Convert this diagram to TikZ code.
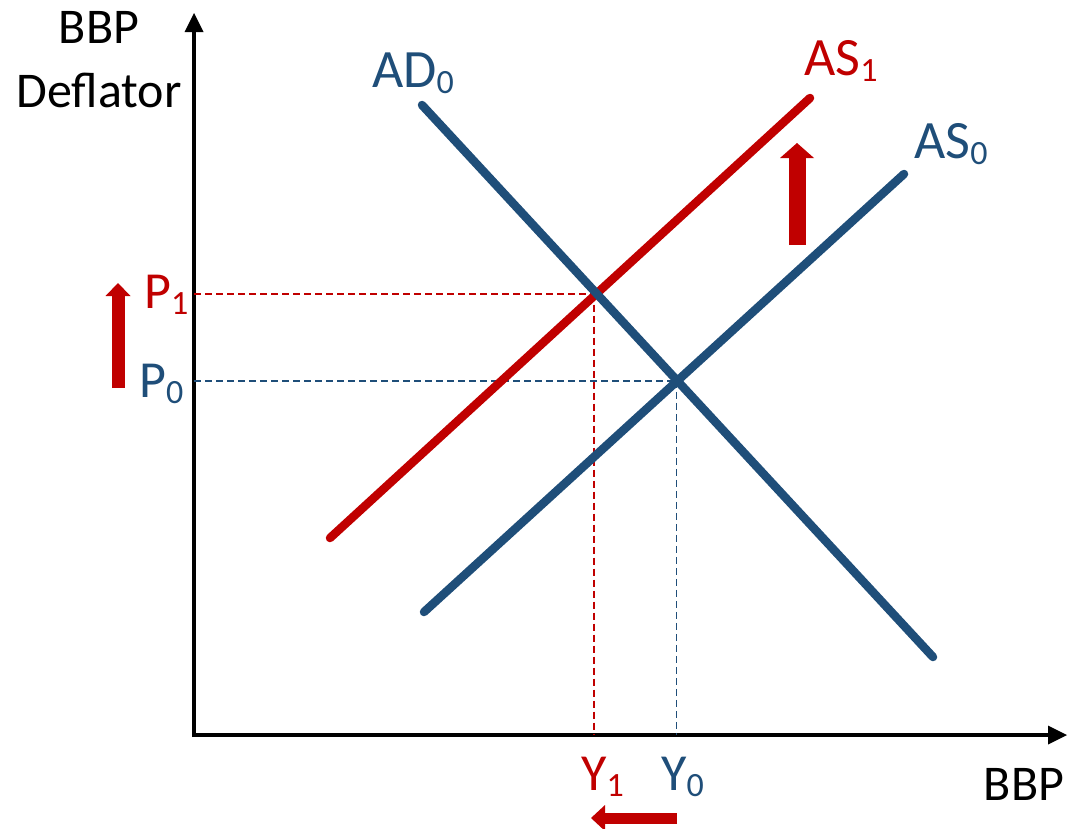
\documentclass[tikz,border=0pt]{standalone}
\usepackage{fontspec}
\setmainfont{Carlito}
\usetikzlibrary{arrows.meta}
\definecolor{myblue}{HTML}{1F4E79}
\definecolor{myred}{HTML}{C00000}
\newcommand{\lblsub}[2]{#1{\fontsize{34}{34}\selectfont\raisebox{-6pt}{#2}}}
\begin{document}
\begin{tikzpicture}[x=1pt,y=-1pt,
  curve/.style={line width=8.5pt, line cap=round},
  axisline/.style={line width=4.5pt, -{Triangle[width=19pt,length=19pt,line width=0pt]}},
  guide/.style={line width=1.8pt, dash pattern=on 7pt off 4pt},
  curvelab/.style={inner sep=0pt, anchor=base west, font=\fontsize{54}{54}\selectfont},
  pylab/.style={inner sep=0pt, anchor=base west, font=\fontsize{52}{52}\selectfont},
  axtitle/.style={inner sep=0pt, anchor=base, font=\fontsize{50}{50}\selectfont},
  shiftarrow/.style={draw=myred}
]
\useasboundingbox (0,0) rectangle (1070,828);

% axes
\coordinate (O) at (194,735);
\coordinate (Ytop) at (194,13);
\coordinate (Xend) at (1067,735);
\draw[axisline] (194,737) -- (Ytop);
\draw[axisline] (192,735) -- (Xend);

% curve end points
\coordinate (AD0a) at (422,105);
\coordinate (AD0b) at (933,657);
\coordinate (AS0a) at (424,612);
\coordinate (AS0b) at (904,174);
\coordinate (AS1a) at (330,538);
\coordinate (AS1b) at (810,98);
\coordinate (E1) at (intersection of AD0a--AD0b and AS1a--AS1b);
\coordinate (E0) at (intersection of AD0a--AD0b and AS0a--AS0b);

% guides
\draw[guide, draw=myred] (O |- E1) -- (E1);
\draw[guide, draw=myred] ([xshift=-3pt]E1) -- ([xshift=-3pt]E1 |- O);
\draw[guide, draw=myblue] (O |- E0) -- (E0);
\draw[guide, draw=myblue] ([xshift=-0.9pt]E0) -- ([xshift=-0.9pt]E0 |- O);

% curves
\draw[curve, draw=myblue] (AS0a) -- (AS0b);
\draw[curve, draw=myred] (AS1a) -- (AS1b);
\draw[curve, draw=myblue] (AD0a) -- (AD0b);

% axis titles
\node[axtitle] (yt1) at (99,43) {BBP};
\node[axtitle] (yt2) at (99,107) {Deflator};
\node[axtitle] (xt) at (1024,800) {BBP};

% curve labels
\node[curvelab, text=myblue] (lAD0) at (372,87) {\lblsub{AD}{0}};
\node[curvelab, text=myred] (lAS1) at (804,75) {\lblsub{AS}{1}};
\node[curvelab, text=myblue] (lAS0) at (914,158) {\lblsub{AS}{0}};

% P and Y labels
\node[pylab, text=myred] (lP1) at (144,308) {\lblsub{P}{1}};
\node[pylab, text=myblue] (lP0) at (139,397) {\lblsub{P}{0}};
\node[pylab, text=myred] (lY1) at (581,790) {\lblsub{Y}{1}};
\node[pylab, text=myblue] (lY0) at (661,790) {\lblsub{Y}{0}};

% shift arrows
\coordinate (pa) at (118,388); \coordinate (pb) at (118,283);
\draw[shiftarrow, line width=13pt, -{Triangle[width=25pt,length=13pt,line width=0pt]}] (pa) -- (pb);
\coordinate (sa) at (797,245); \coordinate (sb) at (797,143);
\draw[shiftarrow, line width=17pt, -{Triangle[width=34pt,length=15pt,line width=0pt]}] (sa) -- (sb);
\coordinate (ya) at (677,818); \coordinate (yb) at (591,818);
\draw[shiftarrow, line width=11pt, -{Triangle[width=26pt,length=14pt,line width=0pt]}] (ya) -- (yb);
\end{tikzpicture}
\end{document}
